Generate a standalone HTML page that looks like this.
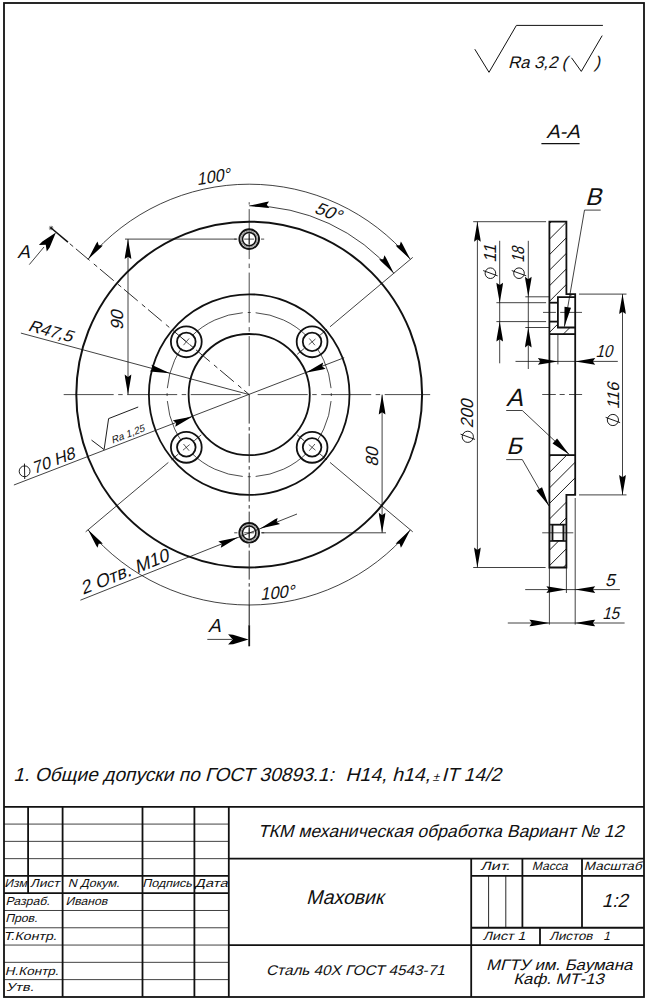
<!DOCTYPE html>
<html><head><meta charset="utf-8"><style>
html,body{margin:0;padding:0;background:#fff;}
svg{display:block;}
svg text{font-family:"Liberation Sans",sans-serif;font-style:normal;fill:#111;stroke:none;}
.ar{fill:#000;stroke:none;}
</style></head><body>
<svg width="648" height="1000" viewBox="0 0 648 1000" stroke="#111" fill="none" stroke-linecap="butt">
<rect x="0" y="0" width="648" height="1000" fill="#fff" stroke="none"/>
<rect x="4" y="3" width="640" height="994" stroke-width="1.8" fill="none"/>
<circle cx="249.2" cy="394.6" r="172.9" stroke-width="2.0" />
<circle cx="249.2" cy="394.6" r="100.3" stroke-width="1.8" />
<circle cx="249.2" cy="394.6" r="60.6" stroke-width="1.8" />
<path d="M331.05,388.16 A82.1,82.1 0 0 0 255.64,312.75" stroke-width="0.75" fill="none" />
<path d="M331.29,396.03 A82.1,82.1 0 0 0 331.29,393.17" stroke-width="0.75" fill="none" />
<path d="M242.76,312.75 A82.1,82.1 0 0 0 167.35,388.16" stroke-width="0.75" fill="none" />
<path d="M250.63,312.51 A82.1,82.1 0 0 0 247.77,312.51" stroke-width="0.75" fill="none" />
<path d="M167.35,401.04 A82.1,82.1 0 0 0 242.76,476.45" stroke-width="0.75" fill="none" />
<path d="M167.11,393.17 A82.1,82.1 0 0 0 167.11,396.03" stroke-width="0.75" fill="none" />
<path d="M255.64,476.45 A82.1,82.1 0 0 0 331.05,401.04" stroke-width="0.75" fill="none" />
<path d="M247.77,476.69 A82.1,82.1 0 0 0 250.63,476.69" stroke-width="0.75" fill="none" />
<circle cx="312.09" cy="341.83" r="8.5" fill="#fff" stroke="none"/>
<circle cx="186.31" cy="341.83" r="8.5" fill="#fff" stroke="none"/>
<circle cx="186.31" cy="447.37" r="8.5" fill="#fff" stroke="none"/>
<circle cx="312.09" cy="447.37" r="8.5" fill="#fff" stroke="none"/>
<path d="M240.7,394.6 L61.2,394.6" stroke-width="0.75" fill="none" stroke-dasharray="50 4.5 4.5 4.5"/>
<path d="M257.7,394.6 L430.2,394.6" stroke-width="0.75" fill="none" stroke-dasharray="50 4.5 4.5 4.5"/>
<path d="M249.2,386.1 L249.2,202.2" stroke-width="0.75" fill="none" stroke-dasharray="50 4.5 4.5 4.5"/>
<path d="M249.2,394.6 L249.2,605" stroke-width="0.95" fill="none" stroke="#222" stroke-dasharray="29 3.5 3.5 3"/>
<line x1="249.2" y1="605" x2="249.2" y2="625.2" stroke-width="1.0" />
<line x1="249.2" y1="625.2" x2="249.2" y2="646.3" stroke-width="1.8" />
<line x1="51.1" y1="228" x2="67.94" y2="242.16" stroke-width="1.5" />
<path d="M67.94,242.16 L249.2,394.6" stroke-width="0.95" fill="none" stroke="#222" stroke-dasharray="0 2.4 4.4 3.6 18 3" />
<line x1="48.9" y1="228" x2="53.3" y2="228" stroke-width="0.7" />
<line x1="49.54" y1="226.44" x2="52.66" y2="229.56" stroke-width="0.7" />
<line x1="51.1" y1="225.8" x2="51.1" y2="230.2" stroke-width="0.7" />
<line x1="52.66" y1="226.44" x2="49.54" y2="229.56" stroke-width="0.7" />
<circle cx="312.09" cy="341.83" r="15.4" stroke-width="1.8" />
<circle cx="312.09" cy="341.83" r="9.3" stroke-width="1.8" />
<line x1="308.72" y1="344.66" x2="315.46" y2="339" stroke-width="0.7" />
<line x1="314.92" y1="345.2" x2="309.26" y2="338.46" stroke-width="0.7" />
<line x1="320.06" y1="335.14" x2="327.03" y2="329.29" stroke-width="0.8" />
<line x1="304.13" y1="348.51" x2="297.15" y2="354.36" stroke-width="0.8" />
<circle cx="186.31" cy="341.83" r="15.4" stroke-width="1.8" />
<circle cx="186.31" cy="341.83" r="9.3" stroke-width="1.8" />
<line x1="189.68" y1="344.66" x2="182.94" y2="339" stroke-width="0.7" />
<line x1="189.14" y1="338.46" x2="183.48" y2="345.2" stroke-width="0.7" />
<circle cx="186.31" cy="447.37" r="15.4" stroke-width="1.8" />
<circle cx="186.31" cy="447.37" r="9.3" stroke-width="1.8" />
<line x1="189.68" y1="444.54" x2="182.94" y2="450.2" stroke-width="0.7" />
<line x1="183.48" y1="444" x2="189.14" y2="450.74" stroke-width="0.7" />
<line x1="178.34" y1="454.06" x2="171.37" y2="459.91" stroke-width="0.8" />
<line x1="194.27" y1="440.69" x2="201.25" y2="434.84" stroke-width="0.8" />
<circle cx="312.09" cy="447.37" r="15.4" stroke-width="1.8" />
<circle cx="312.09" cy="447.37" r="9.3" stroke-width="1.8" />
<line x1="308.72" y1="444.54" x2="315.46" y2="450.2" stroke-width="0.7" />
<line x1="309.26" y1="450.74" x2="314.92" y2="444" stroke-width="0.7" />
<line x1="320.06" y1="454.06" x2="327.03" y2="459.91" stroke-width="0.8" />
<line x1="304.13" y1="440.69" x2="297.15" y2="434.84" stroke-width="0.8" />
<circle cx="249.2" cy="239.1" r="9.85" stroke-width="1.9" />
<circle cx="249.2" cy="239.1" r="8.1" stroke-width="1.0" stroke="#8a8a8a"/>
<circle cx="249.2" cy="239.1" r="6.7" stroke-width="1.5" />
<line x1="234.2" y1="239.1" x2="237.4" y2="239.1" stroke-width="0.75" />
<line x1="244.2" y1="239.1" x2="254.2" y2="239.1" stroke-width="0.75" />
<line x1="261" y1="239.1" x2="264.2" y2="239.1" stroke-width="0.75" />
<line x1="249.2" y1="234.1" x2="249.2" y2="244.1" stroke-width="0.75" />
<circle cx="249.2" cy="532.8" r="9.85" stroke-width="1.9" />
<circle cx="249.2" cy="532.8" r="8.1" stroke-width="1.0" stroke="#8a8a8a"/>
<circle cx="249.2" cy="532.8" r="6.7" stroke-width="1.5" />
<line x1="234.2" y1="532.8" x2="237.4" y2="532.8" stroke-width="0.75" />
<line x1="244.2" y1="532.8" x2="254.2" y2="532.8" stroke-width="0.75" />
<line x1="261" y1="532.8" x2="264.2" y2="532.8" stroke-width="0.75" />
<line x1="249.2" y1="527.8" x2="249.2" y2="537.8" stroke-width="0.75" />
<line x1="330.02" y1="326.79" x2="412.75" y2="257.36" stroke-width="0.8" />
<line x1="168.38" y1="462.41" x2="85.65" y2="531.84" stroke-width="0.8" />
<line x1="330.02" y1="462.41" x2="412.75" y2="531.84" stroke-width="0.8" />
<path d="M410.38,259.36 A210.4,210.4 0 0 0 88.02,259.36" stroke-width="0.8" fill="none" />
<path d="M88.02,529.84 A210.4,210.4 0 0 0 410.38,529.84" stroke-width="0.8" fill="none" />
<path d="M393.83,273.24 A188.8,188.8 0 0 0 249.2,205.8" stroke-width="0.8" fill="none" />
<path d="M88.02,259.36 L95.96,244.03 L97.51,241.44 L98.68,245.35 L102.76,245.44 L100.68,247.63Z" class="ar"/>
<path d="M410.38,259.36 L397.72,247.63 L395.64,245.44 L399.72,245.35 L400.89,241.44 L402.44,244.03Z" class="ar"/>
<path d="M88.02,529.84 L100.68,541.57 L102.76,543.76 L98.68,543.85 L97.51,547.76 L95.96,545.17Z" class="ar"/>
<path d="M410.38,529.84 L402.44,545.17 L400.89,547.76 L399.72,543.85 L395.64,543.76 L397.72,541.57Z" class="ar"/>
<path d="M249.2,205.8 L266.02,201.93 L269,201.45 L266.78,204.87 L269.35,208.04 L266.33,207.87Z" class="ar"/>
<path d="M393.83,273.24 L381.23,261.44 L379.17,259.25 L383.25,259.18 L384.44,255.28 L385.98,257.87Z" class="ar"/>
<text x="0" y="0" font-size="17.5" textLength="33.78" lengthAdjust="spacingAndGlyphs" transform="translate(197.19,185.14) rotate(-9) skewX(-15)">100°</text>
<text x="0" y="0" font-size="17.5" textLength="26.54" lengthAdjust="spacingAndGlyphs" transform="translate(313.52,212.58) rotate(21) skewX(-15)">50°</text>
<text x="0" y="0" font-size="17.5" textLength="34.21" lengthAdjust="spacingAndGlyphs" transform="translate(260.49,599.94) rotate(-5) skewX(-15)">100°</text>
<line x1="125" y1="239.1" x2="236.5" y2="239.1" stroke-width="0.8" />
<line x1="128" y1="239.1" x2="128" y2="394.6" stroke-width="0.8" />
<path d="M128,239.1 L130.97,256.1 L131.3,259.1 L128,256.7 L124.7,259.1 L125.03,256.1Z" class="ar"/>
<path d="M128,394.6 L125.03,377.6 L124.7,374.6 L128,377 L131.3,374.6 L130.97,377.6Z" class="ar"/>
<text x="0" y="0" font-size="17.5" textLength="19.65" lengthAdjust="spacingAndGlyphs" transform="translate(123.49,330.26) rotate(-90) skewX(-15)">90</text>
<line x1="262" y1="532.8" x2="386" y2="532.8" stroke-width="0.8" />
<line x1="382.1" y1="394.6" x2="382.1" y2="532.8" stroke-width="0.8" />
<path d="M382.1,394.6 L385.07,411.6 L385.4,414.6 L382.1,412.2 L378.8,414.6 L379.13,411.6Z" class="ar"/>
<path d="M382.1,532.8 L379.13,515.8 L378.8,512.8 L382.1,515.2 L385.4,512.8 L385.07,515.8Z" class="ar"/>
<text x="0" y="0" font-size="17.5" textLength="18.94" lengthAdjust="spacingAndGlyphs" transform="translate(378.04,466.81) rotate(-90) skewX(-15)">80</text>
<line x1="20.9" y1="333.1" x2="249.2" y2="394.6" stroke-width="0.8" />
<path d="M169.93,373.24 L152.74,371.69 L149.76,371.23 L152.93,368.67 L151.47,364.86 L154.28,365.96Z" class="ar"/>
<text x="0" y="0" font-size="16.6" textLength="45.23" lengthAdjust="spacingAndGlyphs" transform="translate(27.2,330.49) rotate(15.08) skewX(-15)">R47,5</text>
<line x1="13.9" y1="485" x2="344.2" y2="357.7" stroke-width="0.8" />
<path d="M192.65,416.39 L177.86,425.28 L175.18,426.66 L176.23,422.72 L172.81,420.51 L175.72,419.74Z" class="ar"/>
<path d="M305.75,372.81 L320.54,363.92 L323.22,362.54 L322.17,366.48 L325.59,368.69 L322.68,369.46Z" class="ar"/>
<circle cx="24.6" cy="471.3" r="5.4" stroke-width="0.95"/>
<line x1="24.74" y1="479" x2="24.46" y2="463.6" stroke-width="0.95" />
<text x="0" y="0" font-size="16.7" textLength="44.71" lengthAdjust="spacingAndGlyphs" transform="translate(34.29,474) rotate(-21.08) skewX(-15)">70 H8</text>
<path d="M91.5,440.1 L104.1,449.6 L108.6,418.6 L138.2,407" stroke-width="0.95" fill="none"/>
<text x="0" y="0" font-size="10.0" textLength="35" lengthAdjust="spacingAndGlyphs" transform="translate(112.57,443.67) rotate(-21.08) skewX(-15)">Ra 1,25</text>
<line x1="80.4" y1="600.2" x2="297" y2="514" stroke-width="0.8" />
<path d="M238.14,537.2 L223.45,546.25 L220.78,547.66 L221.79,543.71 L218.34,541.53 L221.25,540.73Z" class="ar"/>
<path d="M260.26,528.4 L274.95,519.35 L277.62,517.94 L276.61,521.89 L280.06,524.07 L277.15,524.87Z" class="ar"/>
<text x="0" y="0" font-size="18.3" textLength="93.61" lengthAdjust="spacingAndGlyphs" transform="translate(83.09,594.87) rotate(-21.7) skewX(-15)">2 Отв. M10</text>
<path d="M55.9,232.5 L49.66,247.46 L46.75,251.54 L45.75,244.74 L38.89,245.03 L42.36,241.41Z" class="ar"/>
<line x1="29.3" y1="264.6" x2="44" y2="247" stroke-width="0.8" />
<text x="0" y="0" font-size="18.7" transform="translate(17.13,257.5) skewX(-15)">A</text>
<line x1="207.3" y1="639.4" x2="232" y2="639.4" stroke-width="0.8" />
<path d="M248.6,639.4 L233.1,644.14 L228.1,644.5 L232.7,639.4 L228.1,634.3 L233.1,634.66Z" class="ar"/>
<text x="0" y="0" font-size="18.9" transform="translate(208,632) skewX(-15)">A</text>
<defs>
<clipPath id="hc0"><polygon points="549.4,221.7 566.4,221.7 566.4,294.1 575.2,294.1 575.2,297.1 557.9,297.1 557.9,302.7 549.4,302.7"/></clipPath>
<clipPath id="hc1"><polygon points="549.4,321.6 557.9,321.6 557.9,327.5 575.2,327.5 575.2,334.1 549.4,334.1"/></clipPath>
<clipPath id="hc2"><polygon points="549.4,455.1 575.2,455.1 575.2,494.9 566.4,494.9 566.4,524.7 549.4,524.7"/></clipPath>
<clipPath id="hc3"><polygon points="549.4,540.9 566.4,540.9 566.4,567.5 549.4,567.5"/></clipPath>
</defs>
<path d="M540,170.85 L585,125.85 M540,186.4 L585,141.4 M540,201.95 L585,156.95 M540,217.5 L585,172.5 M540,233.05 L585,188.05 M540,248.6 L585,203.6 M540,264.15 L585,219.15 M540,279.7 L585,234.7 M540,295.25 L585,250.25 M540,310.8 L585,265.8 M540,326.35 L585,281.35 M540,341.9 L585,296.9 M540,357.45 L585,312.45 M540,373 L585,328 M540,388.55 L585,343.55 M540,404.1 L585,359.1 M540,419.65 L585,374.65 M540,435.2 L585,390.2 M540,450.75 L585,405.75 M540,466.3 L585,421.3 M540,481.85 L585,436.85 M540,497.4 L585,452.4 M540,512.95 L585,467.95 M540,528.5 L585,483.5 M540,544.05 L585,499.05 M540,559.6 L585,514.6 M540,575.15 L585,530.15 M540,590.7 L585,545.7 M540,606.25 L585,561.25" stroke-width="0.95" fill="none" clip-path="url(#hc0)"/>
<path d="M540,170.85 L585,125.85 M540,186.4 L585,141.4 M540,201.95 L585,156.95 M540,217.5 L585,172.5 M540,233.05 L585,188.05 M540,248.6 L585,203.6 M540,264.15 L585,219.15 M540,279.7 L585,234.7 M540,295.25 L585,250.25 M540,310.8 L585,265.8 M540,326.35 L585,281.35 M540,341.9 L585,296.9 M540,357.45 L585,312.45 M540,373 L585,328 M540,388.55 L585,343.55 M540,404.1 L585,359.1 M540,419.65 L585,374.65 M540,435.2 L585,390.2 M540,450.75 L585,405.75 M540,466.3 L585,421.3 M540,481.85 L585,436.85 M540,497.4 L585,452.4 M540,512.95 L585,467.95 M540,528.5 L585,483.5 M540,544.05 L585,499.05 M540,559.6 L585,514.6 M540,575.15 L585,530.15 M540,590.7 L585,545.7 M540,606.25 L585,561.25" stroke-width="0.95" fill="none" clip-path="url(#hc1)"/>
<path d="M540,170.85 L585,125.85 M540,186.4 L585,141.4 M540,201.95 L585,156.95 M540,217.5 L585,172.5 M540,233.05 L585,188.05 M540,248.6 L585,203.6 M540,264.15 L585,219.15 M540,279.7 L585,234.7 M540,295.25 L585,250.25 M540,310.8 L585,265.8 M540,326.35 L585,281.35 M540,341.9 L585,296.9 M540,357.45 L585,312.45 M540,373 L585,328 M540,388.55 L585,343.55 M540,404.1 L585,359.1 M540,419.65 L585,374.65 M540,435.2 L585,390.2 M540,450.75 L585,405.75 M540,466.3 L585,421.3 M540,481.85 L585,436.85 M540,497.4 L585,452.4 M540,512.95 L585,467.95 M540,528.5 L585,483.5 M540,544.05 L585,499.05 M540,559.6 L585,514.6 M540,575.15 L585,530.15 M540,590.7 L585,545.7 M540,606.25 L585,561.25" stroke-width="0.95" fill="none" clip-path="url(#hc2)"/>
<path d="M540,170.85 L585,125.85 M540,186.4 L585,141.4 M540,201.95 L585,156.95 M540,217.5 L585,172.5 M540,233.05 L585,188.05 M540,248.6 L585,203.6 M540,264.15 L585,219.15 M540,279.7 L585,234.7 M540,295.25 L585,250.25 M540,310.8 L585,265.8 M540,326.35 L585,281.35 M540,341.9 L585,296.9 M540,357.45 L585,312.45 M540,373 L585,328 M540,388.55 L585,343.55 M540,404.1 L585,359.1 M540,419.65 L585,374.65 M540,435.2 L585,390.2 M540,450.75 L585,405.75 M540,466.3 L585,421.3 M540,481.85 L585,436.85 M540,497.4 L585,452.4 M540,512.95 L585,467.95 M540,528.5 L585,483.5 M540,544.05 L585,499.05 M540,559.6 L585,514.6 M540,575.15 L585,530.15 M540,590.7 L585,545.7 M540,606.25 L585,561.25" stroke-width="0.95" fill="none" clip-path="url(#hc3)"/>
<path d="M549.4,221.7 L566.4,221.7 L566.4,294.1 L575.2,294.1 L575.2,494.9 L566.4,494.9 L566.4,567.5 L549.4,567.5 Z" stroke-width="1.8" fill="none" stroke-linejoin="miter"/>
<line x1="549.4" y1="334.1" x2="575.2" y2="334.1" stroke-width="1.8" />
<line x1="549.4" y1="455.1" x2="575.2" y2="455.1" stroke-width="1.8" />
<path d="M575.2,297.1 L557.9,297.1 L557.9,327.5 L575.2,327.5" stroke-width="1.8" fill="none"/>
<line x1="549.4" y1="302.7" x2="557.9" y2="302.7" stroke-width="1.8" />
<line x1="549.4" y1="321.6" x2="557.9" y2="321.6" stroke-width="1.8" />
<line x1="549.4" y1="524.7" x2="566.4" y2="524.7" stroke-width="1.8" />
<line x1="549.4" y1="540.9" x2="566.4" y2="540.9" stroke-width="1.8" />
<line x1="552.5" y1="524.7" x2="552.5" y2="540.9" stroke-width="1.8" />
<line x1="563.4" y1="524.7" x2="563.4" y2="540.9" stroke-width="1.8" />
<line x1="550.9" y1="524.7" x2="550.9" y2="540.9" stroke-width="0.8" stroke="#777"/>
<line x1="564.9" y1="524.7" x2="564.9" y2="540.9" stroke-width="0.8" stroke="#777"/>
<line x1="557.9" y1="334.1" x2="557.9" y2="364.4" stroke-width="0.8" />
<line x1="543" y1="312.4" x2="555.9" y2="312.4" stroke-width="0.75" />
<line x1="560.2" y1="312.4" x2="582" y2="312.4" stroke-width="0.75" />
<line x1="542.2" y1="394.5" x2="555.8" y2="394.5" stroke-width="0.75" />
<line x1="559.6" y1="394.5" x2="564.7" y2="394.5" stroke-width="0.75" />
<line x1="569" y1="394.5" x2="582.1" y2="394.5" stroke-width="0.75" />
<line x1="542.2" y1="532.8" x2="573.3" y2="532.8" stroke-width="0.75" />
<line x1="473.2" y1="221.7" x2="546.1" y2="221.7" stroke-width="0.8" />
<line x1="473.2" y1="567.5" x2="545.6" y2="567.5" stroke-width="0.8" />
<line x1="477.4" y1="221.7" x2="477.4" y2="567.5" stroke-width="0.8" />
<path d="M477.4,221.7 L480.37,238.7 L480.7,241.7 L477.4,239.3 L474.1,241.7 L474.43,238.7Z" class="ar"/>
<path d="M477.4,567.5 L474.43,550.5 L474.1,547.5 L477.4,549.9 L480.7,547.5 L480.37,550.5Z" class="ar"/>
<circle cx="467.8" cy="436.8" r="5.6" stroke-width="0.95"/>
<line x1="475.04" y1="439.43" x2="460.56" y2="434.17" stroke-width="0.95" />
<text x="0" y="0" font-size="17.5" textLength="28.47" lengthAdjust="spacingAndGlyphs" transform="translate(473.08,428.28) rotate(-90) skewX(-15)">200</text>
<line x1="496.4" y1="302.7" x2="546.1" y2="302.7" stroke-width="0.8" />
<line x1="496.4" y1="321.6" x2="546.1" y2="321.6" stroke-width="0.8" />
<line x1="499.7" y1="240.8" x2="499.7" y2="363.3" stroke-width="0.8" />
<path d="M499.7,302.7 L496.73,285.7 L496.4,282.7 L499.7,285.1 L503,282.7 L502.67,285.7Z" class="ar"/>
<path d="M499.7,321.6 L502.67,338.6 L503,341.6 L499.7,339.2 L496.4,341.6 L496.73,338.6Z" class="ar"/>
<circle cx="490.4" cy="273.2" r="5.3" stroke-width="0.95"/>
<line x1="497.64" y1="275.83" x2="483.16" y2="270.57" stroke-width="0.95" />
<text x="0" y="0" font-size="17.5" textLength="17.85" lengthAdjust="spacingAndGlyphs" transform="translate(496.14,262.64) rotate(-90) skewX(-15)">11</text>
<line x1="525.3" y1="296.8" x2="549.4" y2="296.8" stroke-width="0.8" />
<line x1="525.3" y1="327.5" x2="549.4" y2="327.5" stroke-width="0.8" />
<line x1="528.3" y1="240.8" x2="528.3" y2="369" stroke-width="0.8" />
<path d="M528.3,296.8 L525.33,279.8 L525,276.8 L528.3,279.2 L531.6,276.8 L531.27,279.8Z" class="ar"/>
<path d="M528.3,327.5 L531.27,344.5 L531.6,347.5 L528.3,345.1 L525,347.5 L525.33,344.5Z" class="ar"/>
<circle cx="519" cy="273.2" r="5.3" stroke-width="0.95"/>
<line x1="526.24" y1="275.83" x2="511.76" y2="270.57" stroke-width="0.95" />
<text x="0" y="0" font-size="17.5" textLength="15.56" lengthAdjust="spacingAndGlyphs" transform="translate(523.88,262.75) rotate(-90) skewX(-15)">18</text>
<line x1="579" y1="294.1" x2="626.5" y2="294.1" stroke-width="0.8" />
<line x1="579" y1="494.9" x2="626.5" y2="494.9" stroke-width="0.8" />
<line x1="622.5" y1="294.1" x2="622.5" y2="494.9" stroke-width="0.8" />
<path d="M622.5,294.1 L625.47,311.1 L625.8,314.1 L622.5,311.7 L619.2,314.1 L619.53,311.1Z" class="ar"/>
<path d="M622.5,494.9 L619.53,477.9 L619.2,474.9 L622.5,477.3 L625.8,474.9 L625.47,477.9Z" class="ar"/>
<circle cx="612.9" cy="420" r="5.6" stroke-width="0.95"/>
<line x1="620.14" y1="422.63" x2="605.66" y2="417.37" stroke-width="0.95" />
<text x="0" y="0" font-size="16.9" textLength="26.58" lengthAdjust="spacingAndGlyphs" transform="translate(619.02,409.3) rotate(-90) skewX(-15)">116</text>
<line x1="515.5" y1="361.4" x2="617.8" y2="361.4" stroke-width="0.8" />
<path d="M557.9,361.4 L540.9,364.37 L537.9,364.7 L540.3,361.4 L537.9,358.1 L540.9,358.43Z" class="ar"/>
<path d="M575.2,361.4 L592.2,358.43 L595.2,358.1 L592.8,361.4 L595.2,364.7 L592.2,364.37Z" class="ar"/>
<text x="0" y="0" font-size="17.4" textLength="16.64" lengthAdjust="spacingAndGlyphs" transform="translate(595.49,357.2) skewX(-15)">10</text>
<line x1="549.4" y1="567.5" x2="549.4" y2="624.6" stroke-width="0.8" />
<line x1="566.4" y1="567.5" x2="566.4" y2="593" stroke-width="0.8" />
<line x1="575.2" y1="498" x2="575.2" y2="624.6" stroke-width="0.8" />
<line x1="525.2" y1="589.6" x2="619.9" y2="589.6" stroke-width="0.8" />
<path d="M566.4,589.6 L549.4,592.57 L546.4,592.9 L548.8,589.6 L546.4,586.3 L549.4,586.63Z" class="ar"/>
<path d="M575.2,589.6 L592.2,586.63 L595.2,586.3 L592.8,589.6 L595.2,592.9 L592.2,592.57Z" class="ar"/>
<text x="0" y="0" font-size="17.3" transform="translate(604.89,585.8) skewX(-15)">5</text>
<line x1="507.8" y1="623" x2="624.6" y2="623" stroke-width="0.8" />
<path d="M549.4,623 L532.4,625.97 L529.4,626.3 L531.8,623 L529.4,619.7 L532.4,620.03Z" class="ar"/>
<path d="M575.2,623 L592.2,620.03 L595.2,619.7 L592.8,623 L595.2,626.3 L592.2,625.97Z" class="ar"/>
<text x="0" y="0" font-size="17.0" textLength="16.78" lengthAdjust="spacingAndGlyphs" transform="translate(602.16,618.5) skewX(-15)">15</text>
<line x1="506.2" y1="410.5" x2="522.3" y2="410.5" stroke-width="0.8" />
<line x1="522.3" y1="410.5" x2="569.2" y2="454.5" stroke-width="0.8" />
<path d="M569.2,454.5 L552.58,443.43 L552.58,443.43 L554.83,441.02 L557.09,438.61 L557.09,438.61Z" class="ar"/>
<text x="0" y="0" font-size="25.0" transform="translate(505.97,405.6) skewX(-15)">A</text>
<line x1="506.2" y1="459.6" x2="522.3" y2="459.6" stroke-width="0.8" />
<line x1="522.3" y1="459.6" x2="549" y2="506" stroke-width="0.8" />
<path d="M549,506 L536.31,490.57 L536.31,490.57 L539.17,488.93 L542.03,487.28 L542.03,487.28Z" class="ar"/>
<text x="0" y="0" font-size="23.8" transform="translate(506.36,453.5) skewX(-15)">Б</text>
<line x1="584.5" y1="210.1" x2="600.7" y2="210.1" stroke-width="0.8" />
<line x1="584.5" y1="210.1" x2="564.4" y2="326.7" stroke-width="0.8" />
<path d="M564.4,326.7 L564.49,306.73 L564.49,306.73 L567.75,307.29 L571,307.85 L571,307.85Z" class="ar"/>
<text x="0" y="0" font-size="24.3" transform="translate(585.04,205) skewX(-15)">B</text>
<text x="0" y="0" font-size="19.2" textLength="33.34" lengthAdjust="spacingAndGlyphs" transform="translate(546.24,138.1) skewX(-15)">A-A</text>
<line x1="541.4" y1="143.6" x2="579.6" y2="143.6" stroke-width="1.4" />
<path d="M474.8,49.2 L489,72.3 L516.4,25.4 L602.9,25.4" stroke-width="1.0" fill="none"/>
<text x="0" y="0" font-size="16.9" textLength="49.24" lengthAdjust="spacingAndGlyphs" transform="translate(508.05,68) skewX(-15)">Ra 3,2</text>
<text x="0" y="0" font-size="16.9" transform="translate(561.53,68) skewX(-15)">(</text>
<path d="M571.5,57.8 L581.3,71.4 L602.2,35.6" stroke-width="1.0" fill="none"/>
<text x="0" y="0" font-size="16.9" transform="translate(594.24,68) skewX(-15)">)</text>
<text x="0" y="0" font-size="19.0" textLength="320.5" lengthAdjust="spacingAndGlyphs" transform="translate(13.35,780.6) skewX(-15)">1. Общие допуски по ГОСТ 30893.1:</text>
<text x="0" y="0" font-size="19.0" textLength="84.91" lengthAdjust="spacingAndGlyphs" transform="translate(345.23,780.6) skewX(-15)">H14, h14,</text>
<text x="0" y="0" font-size="12.0" transform="translate(432.41,780.6) skewX(-15)" fill="#555">±</text>
<text x="0" y="0" font-size="19.0" textLength="59.52" lengthAdjust="spacingAndGlyphs" transform="translate(441.45,780.6) skewX(-15)">IT 14/2</text>
<line x1="4" y1="806.8" x2="644" y2="806.8" stroke-width="1.8" />
<line x1="4" y1="824.08" x2="228.8" y2="824.08" stroke-width="0.8" />
<line x1="4" y1="841.36" x2="228.8" y2="841.36" stroke-width="0.8" />
<line x1="4" y1="858.65" x2="228.8" y2="858.65" stroke-width="0.8" />
<line x1="4" y1="875.93" x2="228.8" y2="875.93" stroke-width="1.8" />
<line x1="4" y1="893.21" x2="228.8" y2="893.21" stroke-width="1.8" />
<line x1="4" y1="910.49" x2="228.8" y2="910.49" stroke-width="0.8" />
<line x1="4" y1="927.77" x2="228.8" y2="927.77" stroke-width="0.8" />
<line x1="4" y1="945.06" x2="228.8" y2="945.06" stroke-width="0.8" />
<line x1="4" y1="962.34" x2="228.8" y2="962.34" stroke-width="0.8" />
<line x1="4" y1="979.62" x2="228.8" y2="979.62" stroke-width="0.8" />
<line x1="28.1" y1="806.8" x2="28.1" y2="893.21" stroke-width="1.8" />
<line x1="62.6" y1="806.8" x2="62.6" y2="996.9" stroke-width="1.8" />
<line x1="142.5" y1="806.8" x2="142.5" y2="996.9" stroke-width="1.8" />
<line x1="194.4" y1="806.8" x2="194.4" y2="996.9" stroke-width="1.8" />
<line x1="228.8" y1="806.8" x2="228.8" y2="996.9" stroke-width="1.8" />
<line x1="228.8" y1="858.65" x2="644" y2="858.65" stroke-width="1.8" />
<line x1="228.8" y1="945.06" x2="644" y2="945.06" stroke-width="1.8" />
<line x1="471.2" y1="858.65" x2="471.2" y2="996.9" stroke-width="1.8" />
<line x1="471.2" y1="875.93" x2="644" y2="875.93" stroke-width="1.8" />
<line x1="471.2" y1="927.77" x2="644" y2="927.77" stroke-width="1.8" />
<line x1="488.6" y1="875.93" x2="488.6" y2="927.77" stroke-width="0.9" />
<line x1="505.8" y1="875.93" x2="505.8" y2="927.77" stroke-width="0.9" />
<line x1="522.4" y1="858.65" x2="522.4" y2="927.77" stroke-width="1.8" />
<line x1="582" y1="858.65" x2="582" y2="927.77" stroke-width="1.8" />
<line x1="540" y1="927.77" x2="540" y2="945.06" stroke-width="1.8" />
<text x="0" y="0" font-size="11.6" textLength="22.53" lengthAdjust="spacingAndGlyphs" transform="translate(4.21,887.2) skewX(-15)">Изм</text>
<text x="0" y="0" font-size="11.6" textLength="29.23" lengthAdjust="spacingAndGlyphs" transform="translate(30.12,887.2) skewX(-15)">Лист</text>
<text x="0" y="0" font-size="11.6" textLength="51.64" lengthAdjust="spacingAndGlyphs" transform="translate(67.84,887.2) skewX(-15)">N Докум.</text>
<text x="0" y="0" font-size="11.6" textLength="49.59" lengthAdjust="spacingAndGlyphs" transform="translate(142.23,887.2) skewX(-15)">Подпись</text>
<text x="0" y="0" font-size="11.6" textLength="32.88" lengthAdjust="spacingAndGlyphs" transform="translate(194.82,887.2) skewX(-15)">Дата</text>
<text x="0" y="0" font-size="11.6" textLength="44.37" lengthAdjust="spacingAndGlyphs" transform="translate(5.39,905) skewX(-15)">Разраб.</text>
<text x="0" y="0" font-size="11.6" textLength="41.76" lengthAdjust="spacingAndGlyphs" transform="translate(65.43,905) skewX(-15)">Иванов</text>
<text x="0" y="0" font-size="11.6" textLength="32.37" lengthAdjust="spacingAndGlyphs" transform="translate(5.17,922) skewX(-15)">Пров.</text>
<text x="0" y="0" font-size="11.6" textLength="53.19" lengthAdjust="spacingAndGlyphs" transform="translate(3.55,939.8) skewX(-15)">Т.Контр.</text>
<text x="0" y="0" font-size="11.6" textLength="53.82" lengthAdjust="spacingAndGlyphs" transform="translate(4.8,975) skewX(-15)">Н.Контр.</text>
<text x="0" y="0" font-size="11.6" textLength="27.58" lengthAdjust="spacingAndGlyphs" transform="translate(6.1,990.6) skewX(-15)">Утв.</text>
<text x="0" y="0" font-size="17.4" textLength="365.46" lengthAdjust="spacingAndGlyphs" transform="translate(257.78,837.2) skewX(-15)">ТКМ механическая обработка Вариант № 12</text>
<text x="0" y="0" font-size="20.0" textLength="77.25" lengthAdjust="spacingAndGlyphs" transform="translate(305.97,903.7) skewX(-15)">Маховик</text>
<text x="0" y="0" font-size="14.1" textLength="178.6" lengthAdjust="spacingAndGlyphs" transform="translate(266.05,975) skewX(-15)">Сталь 40Х ГОСТ 4543-71</text>
<text x="0" y="0" font-size="15.3" textLength="146.12" lengthAdjust="spacingAndGlyphs" transform="translate(486.08,969.7) skewX(-15)">МГТУ им. Баумана</text>
<text x="0" y="0" font-size="15.3" textLength="90.41" lengthAdjust="spacingAndGlyphs" transform="translate(513.37,984) skewX(-15)">Каф. МТ-13</text>
<text x="0" y="0" font-size="12.0" textLength="29.82" lengthAdjust="spacingAndGlyphs" transform="translate(480.2,870.3) skewX(-15)">Лит.</text>
<text x="0" y="0" font-size="12.0" textLength="35.78" lengthAdjust="spacingAndGlyphs" transform="translate(531.71,870.3) skewX(-15)">Масса</text>
<text x="0" y="0" font-size="12.0" textLength="57.9" lengthAdjust="spacingAndGlyphs" transform="translate(583.74,870.3) skewX(-15)">Масштаб</text>
<text x="0" y="0" font-size="19.0" textLength="25.7" lengthAdjust="spacingAndGlyphs" transform="translate(601.86,906.9) skewX(-15)">1:2</text>
<text x="0" y="0" font-size="12.0" textLength="42.64" lengthAdjust="spacingAndGlyphs" transform="translate(482.69,940.4) skewX(-15)">Лист 1</text>
<text x="0" y="0" font-size="12.0" textLength="43.23" lengthAdjust="spacingAndGlyphs" transform="translate(549.2,940.4) skewX(-15)">Листов</text>
<text x="0" y="0" font-size="12.0" transform="translate(603.3,940.4) skewX(-15)">1</text>
</svg>
</body></html>
